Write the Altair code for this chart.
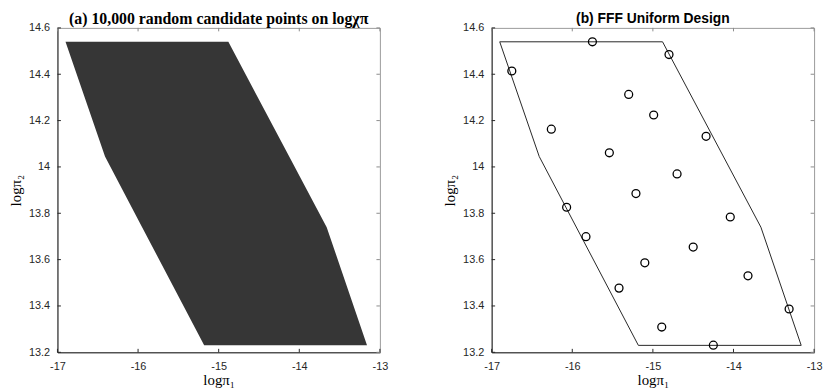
import altair as alt
import numpy as np
import pandas as pd

# Feasible region (vertices), closed
poly_x = [-16.90, -14.88, -13.66, -13.16, -15.18, -16.41, -16.90]
poly_y = [14.54, 14.54, 13.74, 13.23, 13.23, 14.045, 14.54]

# FFF uniform design points
des_x = [-15.75, -14.80, -16.75, -15.30, -14.99, -16.26, -14.34, -15.54, -14.70, -15.21,
         -16.07, -14.04, -15.83, -14.50, -15.10, -13.82, -15.42, -13.31, -14.89, -14.25]
des_y = [14.54, 14.485, 14.414, 14.313, 14.224, 14.163, 14.132, 14.061, 13.970, 13.885,
         13.826, 13.784, 13.699, 13.654, 13.586, 13.530, 13.477, 13.387, 13.309, 13.231]

x_ticks = [-17, -16, -15, -14, -13]
y_ticks = [13.2, 13.4, 13.6, 13.8, 14.0, 14.2, 14.4, 14.6]

W, H = 326, 328
XDOM, YDOM = [-17, -13], [13.2, 14.6]

# boundary of the region (left / right edges) for the filled candidate region
left_y, left_x = [13.23, 14.045, 14.54], [-15.18, -16.41, -16.90]
right_y, right_x = [13.23, 13.74, 14.54], [-13.16, -13.66, -14.88]
ys = sorted(set(left_y + right_y))
region = pd.DataFrame({
    "y": ys,
    "xl": np.interp(ys, left_y, left_x),
    "xr": np.interp(ys, right_y, right_x),
})

poly = pd.DataFrame({"x": poly_x, "y": poly_y, "i": range(len(poly_x))})
des = pd.DataFrame({"x": des_x, "y": des_y})
xt = pd.DataFrame({"v": x_ticks})
yt = pd.DataFrame({"v": y_ticks})

AX = "#262626"
TICK = 3.5

xaxis = alt.Axis(title="logπ₁", values=x_ticks, labelExpr="toString(datum.value)",
                 tickSize=0, labelPadding=8, titlePadding=2, grid=False, labelFlush=False)
yaxis = alt.Axis(title="logπ₂", values=y_ticks, labelExpr="toString(datum.value)",
                 tickSize=0, labelPadding=8, titlePadding=5, grid=False, labelFlush=False)


def xs(field):
    return alt.X(field, type="quantitative", scale=alt.Scale(domain=XDOM, nice=False, zero=False), axis=xaxis)


def ys_(field):
    return alt.Y(field, type="quantitative", scale=alt.Scale(domain=YDOM, nice=False, zero=False), axis=yaxis)


def tick_layers():
    b = alt.Chart(xt).mark_rule(color=AX, strokeWidth=1).encode(
        x=xs("v"), y=alt.value(H), y2=alt.value(H - TICK))
    t = alt.Chart(xt).mark_rule(color="#8c8c8c", strokeWidth=1).encode(
        x=xs("v"), y=alt.value(0), y2=alt.value(TICK))
    l = alt.Chart(yt).mark_rule(color=AX, strokeWidth=1).encode(
        y=ys_("v"), x=alt.value(0), x2=alt.value(TICK))
    r = alt.Chart(yt).mark_rule(color="#8c8c8c", strokeWidth=1).encode(
        y=ys_("v"), x=alt.value(W), x2=alt.value(W - TICK))
    return [b, t, l, r]


fill = alt.Chart(region).mark_area(orient="horizontal", color="#363636", opacity=1).encode(
    y=ys_("y"), x=xs("xl"), x2="xr")

left = alt.layer(fill, *tick_layers()).properties(
    width=W, height=H,
    title=alt.TitleParams("(a) 10,000 random candidate points on logχπ", font="Liberation Serif",
                          fontSize=16, fontWeight="bold", color="#000000", offset=-5, anchor="middle",
                          frame="group"))

outline = alt.Chart(poly).mark_line(color=AX, strokeWidth=1).encode(
    x=xs("x"), y=ys_("y"), order="i:Q")
pts = alt.Chart(des).mark_point(shape="circle", filled=False, color="#000000", size=64,
                                strokeWidth=1.3, opacity=1).encode(x=xs("x"), y=ys_("y"))

right = alt.layer(outline, pts, *tick_layers()).properties(
    width=W, height=H,
    title=alt.TitleParams("(b) FFF Uniform Design", font="Liberation Sans",
                          fontSize=14, fontWeight="bold", color="#000000", offset=-4, anchor="middle",
                          frame="group"))

chart = alt.hconcat(left, right, spacing=54).properties(
    padding={"left": 0, "top": 0, "right": 0, "bottom": 0}
).configure_view(
    stroke="#9a9a9a", strokeWidth=1
).configure_axis(
    domainColor=AX, domainWidth=1, labelFont="Liberation Sans", labelFontSize=11,
    labelColor=AX, titleFont="Liberation Serif", titleFontSize=15, titleFontWeight="normal",
    titleColor="#000000"
)

chart.save("out.html", embed_options={"renderer": "svg", "actions": False})
